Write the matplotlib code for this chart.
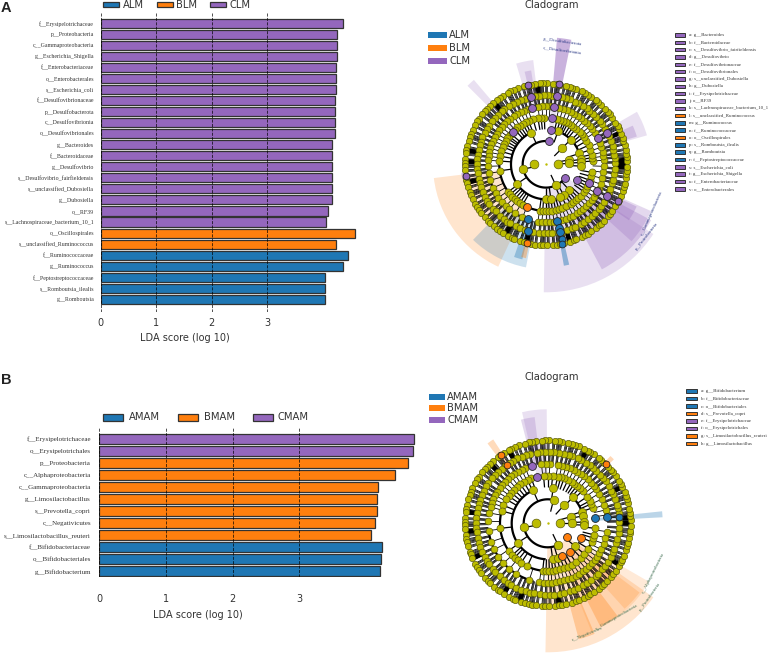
import numpy as np
import matplotlib
matplotlib.use('Agg')
import matplotlib.pyplot as plt
from matplotlib.patches import Rectangle

W, H = 771, 659
BLUE, ORANGE, PURPLE = '#1f77b4', '#ff7f0e', '#9467bd'
NODE = '#bcbc00'
GROUP = {'a': BLUE, 'b': ORANGE, 'c': PURPLE}

# panel A bars
a_taxa = ['f__Erysipelotrichaceae', 'p__Proteobacteria', 'c__Gammaproteobacteria', 'g__Escherichia_Shigella',
          'f__Enterobacteriaceae', 'o__Enterobacterales', 's__Escherichia_coli', 'f__Desulfovibrionaceae',
          'p__Desulfobacterota', 'c__Desulfovibrionia', 'o__Desulfovibrionales', 'g__Bacteroides',
          'f__Bacteroidaceae', 'g__Desulfovibrio', 's__Desulfovibrio_fairfieldensis', 's__unclassified_Dubosiella',
          'g__Dubosiella', 'o__RF39', 's__Lachnospiraceae_bacterium_10_1', 'o__Oscillospirales',
          's__unclassified_Ruminococcus', 'f__Ruminococcaceae', 'g__Ruminococcus', 'f__Peptostreptococcaceae',
          's__Romboutsia_ilealis', 'g__Romboutsia']
a_scores = [4.36, 4.26, 4.26, 4.245, 4.24, 4.24, 4.24, 4.215, 4.215, 4.215, 4.215, 4.165, 4.165,
            4.165, 4.165, 4.155, 4.155, 4.095, 4.05, 4.58, 4.235, 4.455, 4.365, 4.045, 4.045, 4.045]
a_groups = list('cccccccccccccccccccbbaaaaa')
a_names = ['ALM', 'BLM', 'CLM']

# panel B bars
b_taxa = ['f__Erysipelotrichaceae', 'o__Erysipelotrichales', 'p__Proteobacteria', 'c__Alphaproteobacteria',
          'c__Gammaproteobacteria', 'g__Limosilactobacillus', 's__Prevotella_copri', 'c__Negativicutes',
          's__Limosilactobacillus_reuteri', 'f__Bifidobacteriaceae', 'o__Bifidobacteriales', 'g__Bifidobacterium']
b_scores = [4.715, 4.70, 4.63, 4.44, 4.185, 4.17, 4.16, 4.135, 4.07, 4.245, 4.23, 4.205]
b_groups = list('ccbbbbbbbaaa')
b_names = ['AMAM', 'BMAM', 'CMAM']

# right hand keys
a_key = ['a: g__Bacteroides', 'b: f__Bacteroidaceae', 'c: s__Desulfovibrio_fairfieldensis', 'd: g__Desulfovibrio',
         'e: f__Desulfovibrionaceae', 'f: o__Desulfovibrionales', 'g: s__unclassified_Dubosiella', 'h: g__Dubosiella',
         'i: f__Erysipelotrichaceae', 'j: o__RF39', 'k: s__Lachnospiraceae_bacterium_10_1',
         'l: s__unclassified_Ruminococcus', 'm: g__Ruminococcus', 'n: f__Ruminococcaceae', 'o: o__Oscillospirales',
         'p: s__Romboutsia_ilealis', 'q: g__Romboutsia', 'r: f__Peptostreptococcaceae', 's: s__Escherichia_coli',
         't: g__Escherichia_Shigella', 'u: f__Enterobacteriaceae', 'v: o__Enterobacterales']
a_key_groups = list('ccccccccccc') + list('baabaaa') + list('cccc')
b_key = ['a: g__Bifidobacterium', 'b: f__Bifidobacteriaceae', 'c: o__Bifidobacteriales', 'd: s__Prevotella_copri',
         'e: f__Erysipelotrichaceae', 'f: o__Erysipelotrichales', 'g: s__Limosilactobacillus_reuteri',
         'h: g__Limosilactobacillus']
b_key_groups = list('aaabccbb')

# cladogram leaf rings, angles in degrees, outer two look the same in both panels
ring7 = [2, 5, 7, 10, 14, 17, 19, 22, 26, 28, 31, 35, 38, 40, 43, 47, 50, 52, 56, 59, 61, 64, 68, 71, 73, 76, 80, 82,
         85, 89, 92, 94, 98, 101, 103, 106, 110, 113, 116, 118, 122, 125, 127, 131, 134, 137, 139, 142, 146, 148, 151,
         155, 158, 160, 163, 167, 170, 172, 176, 179, 181, 184, 188, 191, 193, 196, 200, 202, 205, 209, 212, 214, 217,
         221, 224, 226, 230, 233, 235, 238, 242, 245, 247, 251, 254, 257, 259, 262, 266, 268, 271, 275, 278, 280, 283,
         287, 290, 292, 296, 299, 301, 304, 308, 311, 313, 316, 320, 322, 325, 329, 332, 334, 337, 341, 344, 346, 350,
         353, 355, 358]
ring6 = [1, 5, 8, 12, 15, 20, 24, 27, 31, 36, 39, 43, 47, 51, 54, 58, 62, 65, 70, 73, 77, 81, 85, 88, 92, 96, 99, 104,
         108, 111, 115, 119, 122, 127, 130, 134, 138, 141, 146, 149, 153, 157, 161, 164, 168, 172, 176, 180, 184, 187,
         192, 196, 199, 204, 208, 212, 215, 220, 223, 228, 232, 236, 239, 244, 248, 252, 256, 259, 264, 268, 272, 275,
         280, 283, 288, 292, 295, 300, 303, 307, 312, 315, 320, 323, 327, 332, 336, 339, 344, 347, 352, 356]

a_ring5 = [4, 8, 12, 17, 22, 33, 37, 41, 45, 49, 53, 57, 61, 65, 69, 73, 77, 86, 90, 94, 98, 108, 112, 116, 120, 124,
           128, 132, 136, 140, 144, 148, 152, 156, 160, 164, 168, 172, 176, 182, 189, 196, 204, 210, 215, 220, 226,
           231, 238, 246, 262, 266, 270, 274, 278, 282, 286, 290, 294, 298, 302, 306, 310, 314, 318, 322, 326, 330,
           335, 340, 346, 352, 358]
a_ring4 = [4, 8, 12, 18, 24, 30, 36, 40, 44, 50, 54, 58, 62, 65, 68, 72, 76, 92, 96, 100, 106, 112, 116, 120, 124, 128,
           132, 139, 143, 146, 150, 154, 158, 164, 170, 176, 188, 216, 220, 224, 228, 232, 236, 240, 262, 266, 270,
           274, 278, 282, 286, 290, 296, 302, 306, 310, 314, 318, 324, 328, 332, 336, 340, 345, 350]
a_ring3 = [115, 214, 45, 18, 8, 3, 357, 312, 300, 293, 70, 270, 278]
a_ring2 = [192, 45, 11, 2, 295]
b_ring5 = [8, 13, 18, 24, 30, 35, 39, 43, 48, 52, 56, 60, 64, 68, 72, 76, 80, 88, 92, 96, 112, 116, 120, 124, 128, 132,
           136, 140, 144, 148, 152, 156, 160, 164, 170, 178, 187, 198, 206, 214, 222, 230, 238, 252, 262, 266, 270,
           274, 278, 282, 286, 290, 294, 298, 302, 306, 310, 314, 318, 322, 326, 330, 334, 340, 346, 352]
b_ring4 = [19, 24, 28, 34, 43, 48, 52, 56, 60, 65, 70, 74, 78, 84, 90, 95, 110, 115, 120, 125, 130, 135, 140, 145, 150,
           158, 165, 186, 215, 222, 226, 231, 236, 244.5, 264, 268, 272, 276, 280, 285, 290, 295, 300, 306, 314, 320,
           328, 337, 342, 346, 354]
b_ring3 = [114, 81, 46, 19, 12, 2, 357, 213, 320, 278, 286]
b_ring2 = [190, 76, 48, 16, 0, 295.5]
ring1 = [180, 0]

# black runs where the branches merge together: centre angle, width
a_dark = [23, 2, 96, 130, 170, 178, 193, 240, 256, 287, 0, 358, 3]
b_dark = [26, 0, 4, 62, 118, 134, 172, 186, 205, 238, 250, 278, 330]

# connecting arcs: radius, start, end
a_arcs = [(23.3, 82, 325), (35, 115, 270), (46.7, 130, 262), (58, 170, 250), (35, 15, 60), (46.7, 15, 42), (46.7, 295, 322)]
b_arcs = [(24, 76, 297), (36, 114, 265), (47.7, 120, 265), (59.5, 190, 255), (36, 18, 48), (47.7, 18, 44), (47.7, 300, 338)]

# shaded clade wedges: start, end, inner, outer, group, alpha
a_wedges = [(-91, -33, 25, 128, 'c', 0.2), (-62, -28, 60, 119, 'c', 0.28), (-42, -24, 70, 115, 'c', 0.25),
            (-34, -25, 81, 100, 'c', 0.3), (78.5, 85, 81, 127, 'c', 0.5), (78.5, 85, 23, 81, 'c', 0.2),
            (97, 106.5, 58, 105, 'c', 0.2), (99, 103, 69, 95, 'c', 0.25), (130.5, 135, 47, 111, 'c', 0.2),
            (16, 30, 58, 105, 'c', 0.2), (17, 24, 69, 95, 'c', 0.28), (187, 245, 47, 113, 'b', 0.2),
            (226, 259, 58, 105, 'a', 0.22), (251, 256, 70, 98, 'a', 0.35), (255, 258, 82, 96, 'b', 0.35),
            (186, 190, 79, 85, 'c', 0.5), (-80, -77, 58, 103, 'a', 0.45)]
b_wedges = [(-91, -35, 24, 129, 'b', 0.2), (-68, -30, 36, 117, 'b', 0.16), (-75, -67, 85, 120, 'b', 0.3),
            (-63, -53, 85, 116, 'b', 0.3), (-48, -37, 60, 115, 'b', 0.2), (90.5, 103, 47, 114, 'c', 0.2),
            (97, 104.5, 59, 107, 'c', 0.25), (123, 127, 71, 100, 'b', 0.28), (44, 47, 83, 92, 'b', 0.3),
            (3, 6, 47, 115, 'a', 0.3)]

# coloured nodes: angle, radius, group
a_marks = [(82.5, 23.3, 'c'), (82, 35, 'c'), (82, 46.7, 'c'), (82, 58, 'c'), (81, 69, 'c'), (81, 81, 'c'),
           (104, 58, 'c'), (102.8, 69, 'c'), (102.5, 81, 'c'), (135.6, 46.7, 'c'), (27, 58, 'c'), (27, 69, 'c'),
           (-35, 23.3, 'c'), (-26, 35, 'c'), (-23, 46.7, 'c'), (-27.6, 58, 'c'), (-27, 69, 'c'), (-27, 81, 'c'),
           (188, 81, 'c'), (245.8, 46.7, 'b'), (256.4, 81, 'b'), (252, 58, 'a'), (254.7, 69, 'a'),
           (-79.5, 58, 'a'), (-78, 64.7, 'a'), (-78.5, 69, 'a'), (-78, 76.3, 'a'), (-78.5, 81, 'a')]
b_marks = [(6, 47.7, 'a'), (5.8, 59.5, 'a'), (5.4, 71.5, 'a'), (102.5, 47.7, 'c'), (104.9, 59.5, 'c'),
           (-34.6, 24, 'b'), (-24, 36, 'b'), (-52.7, 36, 'b'), (-67, 36, 'b'), (124.5, 83, 'b'), (124.9, 71.5, 'b'),
           (45.6, 83, 'b')]

plt.rcParams['font.family'] = 'DejaVu Sans'
TEXT = '#333333'
fig = plt.figure(figsize=(W / 100, H / 100), dpi=100, facecolor='white')


def px_axes(left, top, right, bottom, **kwargs):
    return fig.add_axes([left / W, 1 - bottom / H, (right - left) / W, (bottom - top) / H], **kwargs)


def bar_panel(box, rows, taxa, scores, groups, label_size, label_x, unit, tick_pad, label_drop, name_pad):
    left, top, right, bottom = box
    first, step = rows
    ax = px_axes(left, top, right, bottom)
    y = np.arange(len(taxa))
    ax.barh(y, scores, height=0.82, color=[GROUP[g] for g in groups], edgecolor='#333333', linewidth=0.9)
    ax.set_ylim((bottom - first) / step, (top - first) / step)
    ax.set_xlim(0, (right - left) / unit)
    ax.set_xticks([0, 1, 2, 3])
    ax.set_yticks(y)
    ax.set_yticklabels(taxa, family='Liberation Serif', fontsize=label_size, color=TEXT)
    ax.tick_params(length=0)
    ax.tick_params(axis='x', labelsize=7, pad=tick_pad, labelcolor=TEXT)
    ax.tick_params(axis='y', pad=name_pad)
    ax.grid(axis='x', linestyle='--', color='black', linewidth=0.6, alpha=0.8)
    ax.set_axisbelow(False)
    for spine in ax.spines.values():
        spine.set_visible(False)
    ax.patch.set_alpha(0)
    ax.set_xlabel('LDA score (log 10)', fontsize=7, color=TEXT)
    ax.xaxis.set_label_coords((label_x - left) / (right - left), -label_drop / (bottom - top))
    return ax


def cladogram(center, radii, inner_rings, dark, arcs, wedges, marks):
    cx, cy = center
    R = 140
    ax = px_axes(cx - R, cy - R, cx + R, cy + R, projection='polar')
    ax.set_ylim(0, R)
    ax.set_axis_off()
    for start, end, r0, r1, g, alpha in wedges:
        ax.bar(np.radians((start + end) / 2), r1 - r0, width=np.radians(end - start), bottom=r0,
               color=GROUP[g], alpha=alpha, linewidth=0, zorder=1)
    rings = [ring1] + inner_rings + [ring6, ring7]
    sizes = [40, 38, 34, 26, 24, 24, 21]
    # spokes back to the ring before
    for i, angles in enumerate(rings):
        if i == 0:
            continue
        lw = 0.6 if i >= 4 else 0.9
        ax.vlines(np.radians(angles), radii[i - 1], radii[i], color='black', linewidth=lw, zorder=2)
    # extra fine branches between the outer rings
    for shift in (0.012, 0.024):
        ax.vlines(np.radians(ring7) + shift, radii[5], radii[6], color='black', linewidth=0.5, zorder=2)
        ax.vlines(np.radians(ring6) + shift, radii[4], radii[5], color='black', linewidth=0.5, zorder=2)
    ax.bar(np.radians(dark), radii[6] - radii[5], width=np.radians(3.5), bottom=radii[5], color='black', linewidth=0, zorder=2)
    for r, start, end in arcs:
        t = np.radians(np.linspace(start, end, 100))
        ax.plot(t, np.full_like(t, r), color='black', linewidth=1.6, zorder=2)
    for i, angles in enumerate(rings):
        ax.scatter(np.radians(angles), np.full(len(angles), radii[i]), s=sizes[i], c=NODE,
                   edgecolors='#55550a', linewidths=0.45, zorder=3)
    ax.scatter([0], [0], s=3, c=NODE, linewidths=0, zorder=3)
    for theta, r, g in marks:
        ax.scatter(np.radians(theta), r, s=32 if r < 70 else 24, c=GROUP[g], edgecolors='#222222', linewidths=0.6, zorder=4)
    return ax


bar_panel((100.5, 13, 100.5 + 4.62 * 55.6, 312), (23.3, 11.04), a_taxa, a_scores, a_groups, 4.25, 185, 55.6, 4.5, 21, 4.6)
bar_panel((99.3, 427, 99.3 + 4.76 * 66.7, 577), (438.7, 12.05), b_taxa, b_scores, b_groups, 5.05, 198, 66.7, 12.4, 33, 6)

cladogram((546, 164.3), [11.7, 23.3, 35, 46.7, 58, 69, 81], [a_ring2, a_ring3, a_ring4, a_ring5], a_dark, a_arcs, a_wedges, a_marks)
cladogram((547.7, 523.3), [12, 24, 36, 47.7, 59.5, 71.5, 83], [b_ring2, b_ring3, b_ring4, b_ring5], b_dark, b_arcs, b_wedges, b_marks)

# overlay in pixel coordinates for keys and annotations
over = fig.add_axes([0, 0, 1, 1])
over.set_xlim(0, W)
over.set_ylim(H, 0)
over.axis('off')
over.patch.set_alpha(0)


def swatch(x, y, w, h, color, edge='#333333', lw=0.9):
    over.add_patch(Rectangle((x, y), w, h, facecolor=color, edgecolor=edge, linewidth=lw))


for (x_patch, x_text), name, g in zip([(103, 123), (157, 176), (210, 229)], a_names, 'abc'):
    swatch(x_patch, 2, 16, 5, GROUP[g])
    over.text(x_text, 5, name, fontsize=7.2, va='center', color=TEXT)
for (x_patch, x_text), name, g in zip([(103, 129), (178, 204), (253, 278)], b_names, 'abc'):
    swatch(x_patch, 414, 20, 7, GROUP[g])
    over.text(x_text, 417.5, name, fontsize=7.2, va='center', color=TEXT)

for y, name, g in zip([35, 48, 61], a_names, 'abc'):
    swatch(428, y - 3, 19, 6, GROUP[g], edge='none', lw=0)
    over.text(449, y, name, fontsize=7.2, va='center', color=TEXT)
for y, name, g in zip([397, 408, 420], b_names, 'abc'):
    swatch(429, y - 3, 16, 6, GROUP[g], edge='none', lw=0)
    over.text(447, y, name, fontsize=7.2, va='center', color=TEXT)

over.text(552, 5, 'Cladogram', fontsize=7.2, ha='center', va='center', color=TEXT)
over.text(552, 377, 'Cladogram', fontsize=7.2, ha='center', va='center', color=TEXT)
over.text(1, 8, 'A', fontsize=10.5, fontweight='bold', family='Liberation Sans', va='center', color='#222222')
over.text(1, 380, 'B', fontsize=10.5, fontweight='bold', family='Liberation Sans', va='center', color='#222222')

for i, (label, g) in enumerate(zip(a_key, a_key_groups)):
    y = 35 + i * 7.33
    swatch(675, y - 1.8, 10, 3.6, GROUP[g], lw=0.7)
    over.text(689, y, label, fontsize=3.5, family='Liberation Serif', va='center', color=TEXT)
for i, (label, g) in enumerate(zip(b_key, b_key_groups)):
    y = 391 + i * 7.5
    swatch(686, y - 1.8, 11, 3.6, GROUP[g], lw=0.7)
    over.text(700.7, y, label, fontsize=3.5, family='Liberation Serif', va='center', color=TEXT)

# clade labels around panel A
LAB_A = '#2b3a86'
for x, y, rot, s in [(563, 42, -8, 'p__Desulfobacterota'), (562, 50, -8, 'c__Desulfovibrionia'),
                     (652, 213, 66, 'c__Gammaproteobacteria'), (647, 236, 52, 'p__Proteobacteria')]:
    over.text(x, y, s, fontsize=3.4, family='Liberation Serif', rotation=rot, ha='center', va='center', color=LAB_A)
# clade labels around panel B
LAB_B = '#3f6f52'
for x, y, rot, s in [(653, 573, 63, 'c__Alphaproteobacteria'), (650, 597, 55, 'p__Proteobacteria'),
                     (617, 617, 30, 'c__Gammaproteobacteria'), (587, 634, 22, 'c__Negativicutes')]:
    over.text(x, y, s, fontsize=3.4, family='Liberation Serif', rotation=rot, ha='center', va='center', color=LAB_B)

fig.savefig('out.png', dpi=100)
